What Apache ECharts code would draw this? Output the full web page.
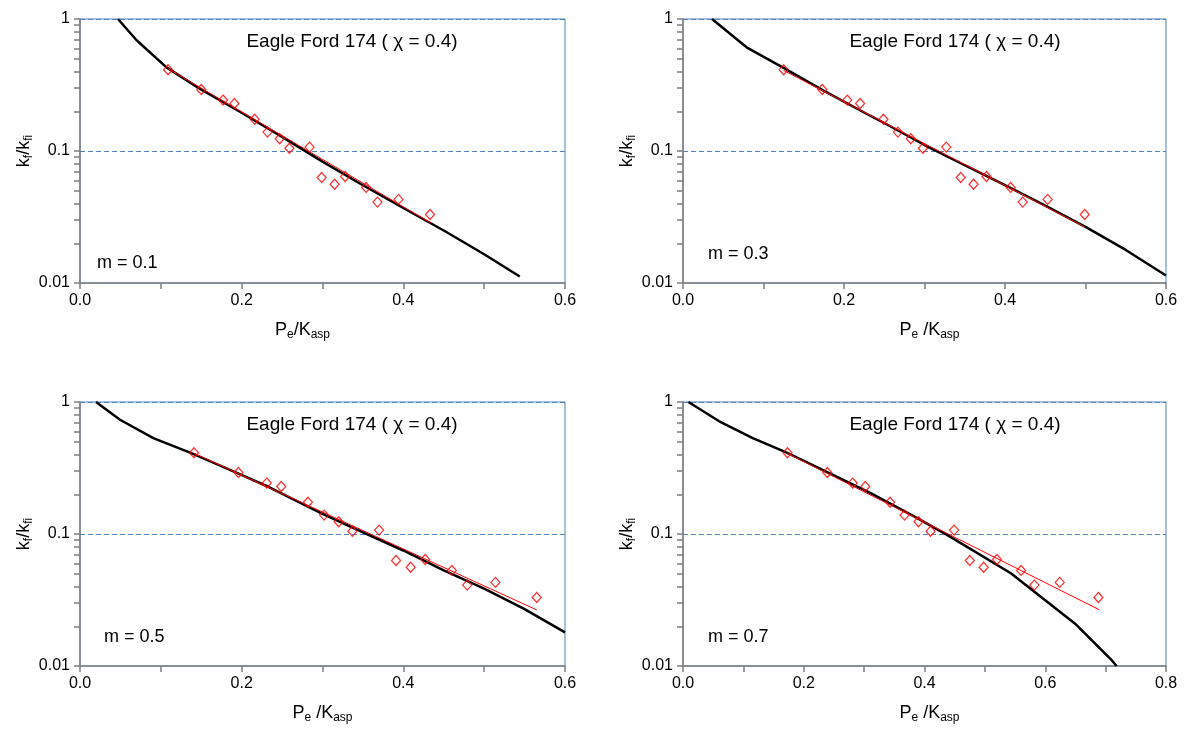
<!DOCTYPE html>
<html>
<head>
<meta charset="utf-8">
<script src="https://cdn.jsdelivr.net/npm/echarts@6/dist/echarts.min.js"></script>
<style>
html,body{margin:0;padding:0;background:#fff;}
#c{width:1189px;height:729px;}
</style>
</head>
<body>
<div id="c"></div>
<script>
// ---- data ----
// measured permeability ratio kf/kfi (same for all panels)
const kRatio = [0.412, 0.292, 0.243, 0.229, 0.174, 0.139, 0.124, 0.105, 0.107, 0.063, 0.056, 0.064, 0.053, 0.041, 0.043, 0.033];
// Pe/Kasp for each m
const peM01 = [0.109, 0.150, 0.177, 0.191, 0.216, 0.232, 0.247, 0.259, 0.284, 0.299, 0.315, 0.328, 0.354, 0.368, 0.394, 0.433];
const peM03 = [0.125, 0.173, 0.204, 0.220, 0.249, 0.267, 0.283, 0.298, 0.327, 0.345, 0.361, 0.377, 0.407, 0.422, 0.453, 0.499];
const peM05 = [0.141, 0.196, 0.231, 0.249, 0.282, 0.302, 0.320, 0.337, 0.370, 0.391, 0.409, 0.427, 0.460, 0.479, 0.514, 0.565];
const peM07 = [0.173, 0.239, 0.281, 0.302, 0.343, 0.367, 0.390, 0.410, 0.449, 0.475, 0.498, 0.520, 0.560, 0.582, 0.624, 0.688];

// model curves (black)
const modelXm01 = [0.047, 0.070, 0.107, 0.148, 0.20, 0.25, 0.30, 0.35, 0.40, 0.45, 0.50, 0.544];
const modelYm01 = [1.0, 0.69, 0.43, 0.297, 0.195, 0.128, 0.083, 0.055, 0.037, 0.025, 0.0165, 0.0112];
const modelXm03 = [0.036, 0.079, 0.126, 0.174, 0.2325, 0.25, 0.30, 0.35, 0.40, 0.45, 0.50, 0.55, 0.60];
const modelYm03 = [1.0, 0.61, 0.423, 0.288, 0.185, 0.163, 0.111, 0.078, 0.0552, 0.0385, 0.0266, 0.0178, 0.0114];
const modelXm05 = [0.0198, 0.0495, 0.0907, 0.140, 0.194, 0.235, 0.30, 0.35, 0.40, 0.45, 0.50, 0.55, 0.60];
const modelYm05 = [1.0, 0.734, 0.533, 0.404, 0.29, 0.225, 0.142, 0.103, 0.075, 0.053, 0.0385, 0.027, 0.018];
const modelXm07 = [0.009, 0.06, 0.1155, 0.171, 0.238, 0.31, 0.388, 0.438, 0.543, 0.649, 0.71, 0.718];
const modelYm07 = [1.0, 0.714, 0.533, 0.416, 0.295, 0.205, 0.132, 0.098, 0.0504, 0.021, 0.0111, 0.0100];

// exponential trend lines (red)
const trendXm01 = [0.109, 0.434], trendYm01 = [0.42, 0.0285];
const trendXm03 = [0.125, 0.499], trendYm03 = [0.408, 0.0266];
const trendXm05 = [0.141, 0.565], trendYm05 = [0.408, 0.0266];
const trendXm07 = [0.173, 0.690], trendYm07 = [0.408, 0.0266];

// axis settings
const xMaxes = [0.6, 0.6, 0.6, 0.8];
const mLabels = ['m = 0.1', 'm = 0.3', 'm = 0.5', 'm = 0.7'];
const panelTitle = 'Eagle Ford 174 ( \u03c7 = 0.4)';
const xNames = ['{n|P}{s|e}{n|/K}{s|asp}', '{n|P}{s|e}{n| /K}{s|asp}', '{n|P}{s|e}{n| /K}{s|asp}', '{n|P}{s|e}{n| /K}{s|asp}'];
const yName = '{n|k}{s|f}{n|/k}{s|fi}';

const pe = [peM01, peM03, peM05, peM07];
const modelX = [modelXm01, modelXm03, modelXm05, modelXm07];
const modelY = [modelYm01, modelYm03, modelYm05, modelYm07];
const trendX = [trendXm01, trendXm03, trendXm05, trendXm07];
const trendY = [trendYm01, trendYm03, trendYm05, trendYm07];

// ---- layout ----
const FONT = '"Liberation Sans", Arial, sans-serif';
const grids = [
  {left: 80, top: 19, width: 485, height: 264},
  {left: 683, top: 19, width: 483, height: 264},
  {left: 80, top: 402, width: 485, height: 264},
  {left: 683, top: 402, width: 483, height: 264}
];
const axisGray = '#7f7f7f';
const blue = '#4f81bd';
const rich = {
  n: {fontSize: 18, fontFamily: FONT, color: '#000'},
  s: {fontSize: 12, fontFamily: FONT, color: '#000', padding: [10, 0, 0, 0]}
};
const mOffsets = [[17, 244], [25, 235], [24, 235], [25, 235]];
const xNamePad = [[0, 40, 0, 0], [0, 0, 0, 10], [0, 0, 0, 0], [0, 0, 0, 10]];

const zip = (a, b) => a.map((v, i) => [v, b[i]]);

const tickStyle = {show: true, inside: false, length: 6, lineStyle: {color: axisGray, width: 1.5}};

const option = {
  animation: false,
  backgroundColor: '#fff',
  grid: grids.map(g => Object.assign({show: true, borderColor: blue, borderWidth: 1, backgroundColor: 'transparent'}, g)),
  xAxis: xMaxes.map((mx, i) => ({
    type: 'value', gridIndex: i, min: 0, max: mx, interval: 0.2,
    name: xNames[i], nameLocation: 'middle', nameGap: 36,
    nameTextStyle: {rich: rich, padding: xNamePad[i]},
    axisLine: {show: true, lineStyle: {color: axisGray, width: 1.5}},
    axisTick: tickStyle,
    minorTick: {show: true, splitNumber: 2, length: 6, lineStyle: {color: axisGray, width: 1.5}},
    axisLabel: {fontSize: 16, fontFamily: FONT, color: '#000', margin: 10, formatter: v => v.toFixed(1)},
    splitLine: {show: false}
  })),
  yAxis: [],
  graphic: [],
  series: []
};

for (let i = 0; i < 4; i++) {
  option.yAxis.push({
    type: 'log', gridIndex: i, min: 0.01, max: 1, logBase: 10,
    name: yName, nameLocation: 'middle', nameGap: 45, nameRotate: 90,
    nameTextStyle: {rich: rich},
    axisLine: {show: true, lineStyle: {color: axisGray, width: 1.5}},
    axisTick: tickStyle,
    minorTick: {show: true, splitNumber: 9, length: 6, lineStyle: {color: axisGray, width: 1.5}},
    axisLabel: {fontSize: 16, fontFamily: FONT, color: '#000', margin: 10,
      formatter: v => String(+Number(v).toPrecision(1))},
    splitLine: {show: true, showMinLine: false, lineStyle: {color: blue, type: [5, 3], width: 1}}
  });
  option.series.push({
    type: 'line', xAxisIndex: i, yAxisIndex: i, data: zip(modelX[i], modelY[i]),
    showSymbol: false, symbol: 'none', lineStyle: {color: '#000', width: 2.5}, z: 2
  });
  option.series.push({
    type: 'line', xAxisIndex: i, yAxisIndex: i, data: zip(trendX[i], trendY[i]),
    showSymbol: false, symbol: 'none', lineStyle: {color: '#ff0000', width: 1}, z: 3
  });
  option.series.push({
    type: 'scatter', xAxisIndex: i, yAxisIndex: i, data: zip(pe[i], kRatio),
    symbol: 'diamond', symbolSize: [9, 10],
    itemStyle: {color: 'rgba(255,255,255,0)', borderColor: '#ff0000', borderWidth: 1.3}, z: 4
  });
  const g = grids[i];
  option.graphic.push({
    type: 'text', x: g.left + 272, y: g.top + 23,
    style: {text: panelTitle, align: 'center', verticalAlign: 'middle', fontSize: 19, fontFamily: FONT, fill: '#000'}
  });
  option.graphic.push({
    type: 'text', x: g.left + mOffsets[i][0], y: g.top + mOffsets[i][1],
    style: {text: mLabels[i], align: 'left', verticalAlign: 'middle', fontSize: 18, fontFamily: FONT, fill: '#000'}
  });
}

const chart = echarts.init(document.getElementById('c'), null, {renderer: 'canvas'});
chart.setOption(option);
</script>
</body>
</html>
